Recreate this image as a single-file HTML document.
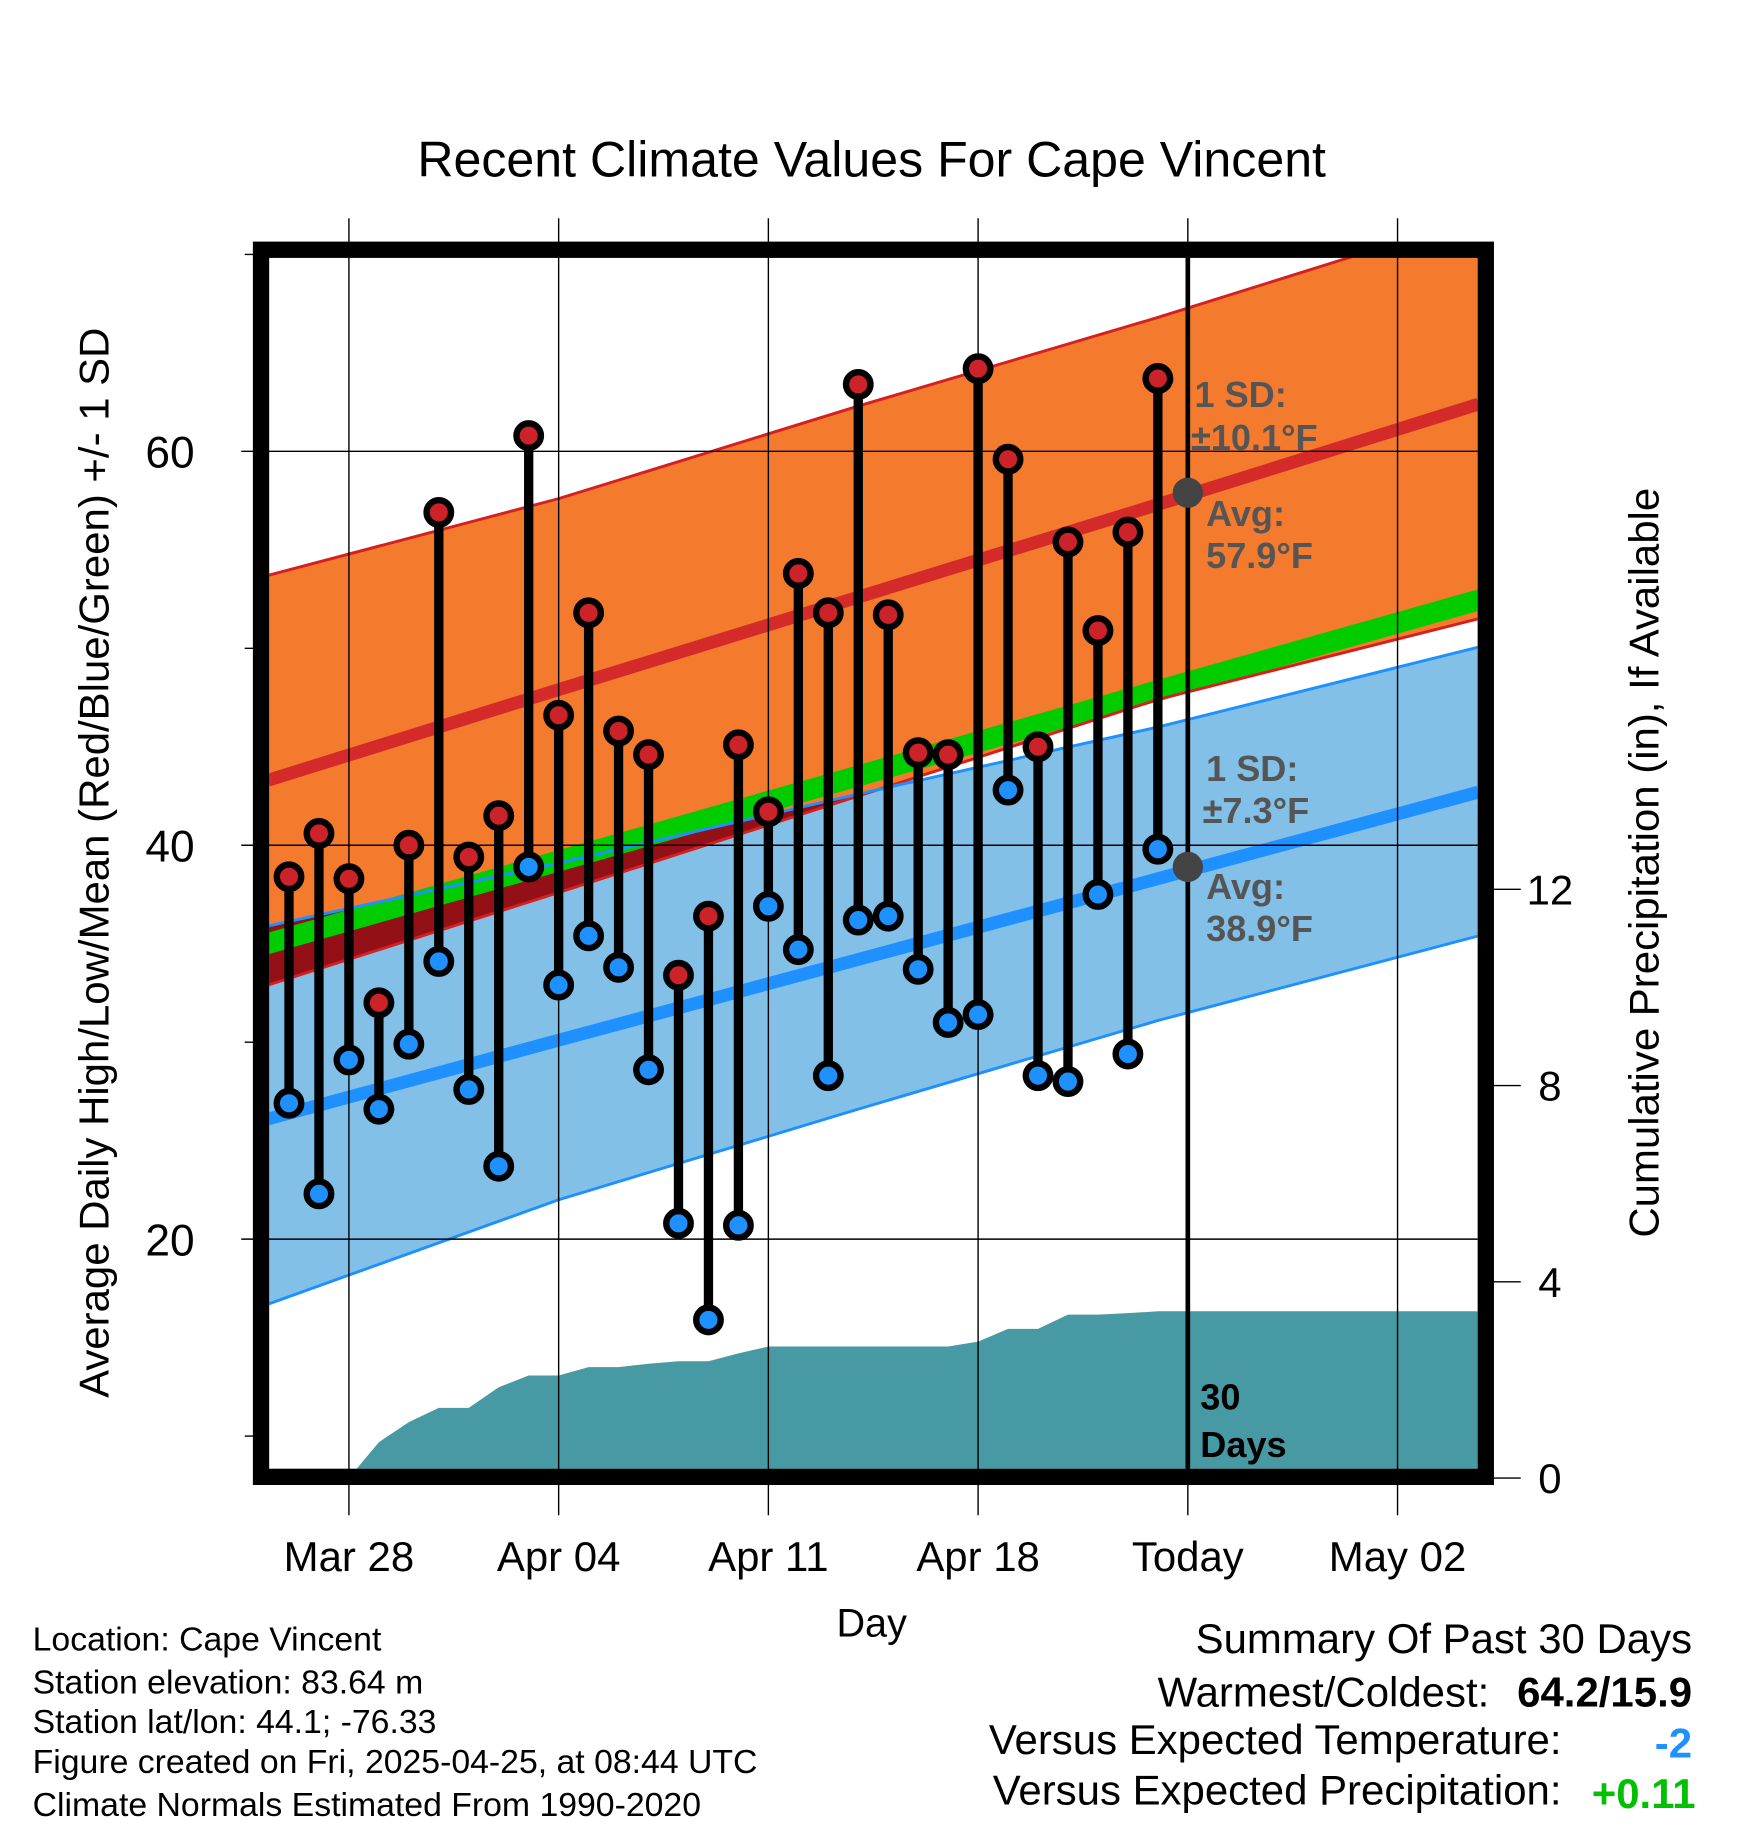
<!DOCTYPE html>
<html><head><meta charset="utf-8"><style>
html,body{margin:0;padding:0;background:#fff}
svg{display:block;font-family:"Liberation Sans",sans-serif}
</style></head><body>
<svg id="chart" width="1748" height="1828" viewBox="0 0 1500 1568" xmlns="http://www.w3.org/2000/svg">
<defs>
<clipPath id="inner"><rect x="231" y="221" width="1037" height="1039"/></clipPath>
</defs>
<text x="748" y="151" font-size="43" text-anchor="middle">Recent Climate Values For Cape Vincent</text>
<g id="bands" clip-path="url(#inner)"></g>
<g id="grid"></g>
<g id="marks" clip-path="url(#inner)"></g>
<rect x="224" y="214" width="1051" height="1053" fill="none" stroke="#000" stroke-width="14"/>
<g id="axes"></g>
<g font-size="31" font-weight="bold" fill="#555">
<text x="1025" y="349">1 SD:</text>
<text x="1022" y="386">±10.1°F</text>
<text x="1035" y="451">Avg:</text>
<text x="1035" y="487">57.9°F</text>
<text x="1035" y="670">1 SD:</text>
<text x="1032" y="706">±7.3°F</text>
<text x="1035" y="771">Avg:</text>
<text x="1035" y="807">38.9°F</text>
</g>
<g font-size="31" font-weight="bold" fill="#000">
<text x="1030" y="1209">30</text>
<text x="1030" y="1250">Days</text>
</g>
<text transform="translate(93,740) rotate(-90)" font-size="36" text-anchor="middle">Average Daily High/Low/Mean (Red/Blue/Green) +/- 1 SD</text>
<text transform="translate(1423,740) rotate(-90)" font-size="36" text-anchor="middle">Cumulative Precipitation (in), If Available</text>
<text x="748" y="1404" font-size="34" text-anchor="middle">Day</text>
<g font-size="29">
<text x="28" y="1416">Location: Cape Vincent</text>
<text x="28" y="1453">Station elevation: 83.64 m</text>
<text x="28" y="1487">Station lat/lon: 44.1; -76.33</text>
<text x="28" y="1521">Figure created on Fri, 2025-04-25, at 08:44 UTC</text>
<text x="28" y="1558">Climate Normals Estimated From 1990-2020</text>
</g>
<g font-size="36">
<text x="1452" y="1418" text-anchor="end">Summary Of Past 30 Days</text>
<text x="1278" y="1464" text-anchor="end">Warmest/Coldest:</text>
<text x="1452" y="1464" text-anchor="end" font-weight="bold">64.2/15.9</text>
<text x="1340" y="1505" text-anchor="end">Versus Expected Temperature:</text>
<text x="1452" y="1508" text-anchor="end" font-weight="bold" fill="#1e90ff">-2</text>
<text x="1340" y="1548" text-anchor="end">Versus Expected Precipitation:</text>
<text x="1455" y="1551" text-anchor="end" font-weight="bold" fill="#00c000">+0.11</text>
</g>
</svg>
<script>
const highs=[38.4,40.6,38.3,32.0,40.0,56.9,39.4,41.5,60.8,46.6,51.8,45.8,44.6,33.4,36.4,45.1,41.7,53.8,51.8,63.4,51.7,44.7,44.6,64.2,59.6,45.0,55.4,50.9,55.9,63.7];
const lows=[26.9,22.3,29.1,26.6,29.9,34.1,27.6,23.7,38.9,32.9,35.4,33.8,28.6,20.8,15.9,20.7,36.9,34.7,28.3,36.2,36.4,33.7,31.0,31.4,42.8,28.3,28.0,37.5,29.4,39.8];
const precip=[0,0,0,0.73,1.14,1.43,1.43,1.85,2.09,2.09,2.26,2.26,2.33,2.38,2.38,2.54,2.68,2.68,2.68,2.68,2.68,2.68,2.68,2.78,3.04,3.04,3.33,3.33,3.36,3.4];
const normDays=[-0.7,9,19,29,39.7];
const avgHigh=[43.3,47.9,52.6,57.3,62.4];
const highUpper=[53.7,57.6,62.3,66.8,71.9];
const highLower=[32.9,37.6,42.5,47.4,51.5];
const meanTop=[35.56,39.75,44.07,48.4,53.0];
const avgLow=[26.1,30.1,34.2,38.3,42.7];
const lowUpper=[35.9,39.1,42.6,46.0,50.06];
const lowLower=[16.7,22.0,26.6,31.1,35.4];
const yTicks=[20,40,60];
const yMinor=[10,30,50,70];
const pTicks=[0,4,8,12];
const xTickDays=[2,9,16,23,30,37];
const xTickLabels=["Mar 28","Apr 04","Apr 11","Apr 18","Today","May 02"];

const NS="http://www.w3.org/2000/svg";
const X=d=>248+25.71*d;
const Y=v=>387-(v-60)*16.9;
const P=p=>1268-p*42.1;
function mk(parent,tag,attrs){const e=document.createElementNS(NS,tag);for(const k in attrs)e.setAttribute(k,attrs[k]);document.getElementById(parent).appendChild(e);return e;}
function line(arr){return normDays.map((d,i)=>X(d)+","+Y(arr[i])).join(" ");}
function band(a,b){return line(a)+" "+normDays.map((d,i)=>X(d)+","+Y(b[i])).reverse().join(" ");}
const meanBot=meanTop.map(v=>v-1.1);

let e;
e=mk('bands','polygon',{points:band(highUpper,highLower),fill:'#f47a2e'});


e=mk('bands','polygon',{points:band(lowUpper,lowLower),fill:'#82c0e8'});


const cp=mk('bands','clipPath',{id:'orangeClip'});
const cpp=document.createElementNS(NS,'polygon');cpp.setAttribute('points',band(highUpper,highLower));cp.appendChild(cpp);
e=mk('bands','polygon',{points:band(lowUpper,lowLower),fill:'#931016','clip-path':'url(#orangeClip)'});


e=mk('bands','polygon',{points:band(meanTop,meanBot),fill:'#00cc00'});


[[highUpper,'#d42020',2.5,'high-upper-line'],[highLower,'#d42020',2.5,'high-lower-line'],[lowUpper,'#1e90ff',2.5,'low-upper-line'],[lowLower,'#1e90ff',2.5,'low-lower-line'],[avgHigh,'#d42a2a',11,'avg-high-line'],[avgLow,'#1e90ff',11,'avg-low-line']].forEach(s=>{
  const l=mk('bands','polyline',{points:line(s[0]),fill:'none',stroke:s[1],'stroke-width':s[2]});
  
  
});
let pts=X(0)+",1262 ";
precip.forEach((p,i)=>{pts+=X(i)+","+P(p)+" ";});
pts+="1270,"+P(precip[precip.length-1])+" 1270,1262";
e=mk('bands','polygon',{points:pts,fill:'#4799a3'});



yTicks.forEach(v=>{
  const g=mk('grid','line',{x1:207,x2:1268,y1:Y(v),y2:Y(v),stroke:'#000','stroke-width':1.2});
  
  
  const t=mk('axes','text',{x:167,y:Y(v)+14,'font-size':38,'text-anchor':'end'});t.textContent=v;
  
  
});
yMinor.forEach(v=>{
  const g=mk('grid','line',{x1:210,x2:224,y1:Y(v),y2:Y(v),stroke:'#000','stroke-width':1.2});
  
  
});
xTickDays.forEach((d,i)=>{
  const g=mk('grid','line',{x1:X(d),x2:X(d),y1:187,y2:1300,stroke:'#000','stroke-width':1.2});
  
  
  const t=mk('axes','text',{x:X(d),y:1348,'font-size':36,'text-anchor':'middle'});t.textContent=xTickLabels[i];
  
  
});
pTicks.forEach(p=>{
  const g=mk('axes','line',{x1:1275,x2:1305,y1:P(p),y2:P(p),stroke:'#000','stroke-width':1.2});
  
  
  const t=mk('axes','text',{x:1330,y:P(p)+13,'font-size':36,'text-anchor':'middle'});t.textContent=p;
  
  
});
e=mk('marks','line',{x1:X(30),x2:X(30),y1:214,y2:1262,stroke:'#000','stroke-width':4});


highs.forEach((h,i)=>{
  const l=mk('marks','line',{x1:X(i),x2:X(i),y1:Y(h),y2:Y(lows[i]),stroke:'#000','stroke-width':8});
  
  
});
highs.forEach((h,i)=>{
  const c=mk('marks','circle',{cx:X(i),cy:Y(h),r:10.5,fill:'#cc2229',stroke:'#000','stroke-width':5.5});
  
  
  const c2=mk('marks','circle',{cx:X(i),cy:Y(lows[i]),r:10.5,fill:'#1e90ff',stroke:'#000','stroke-width':5.5});
  
  
});
[[57.9],[38.9]].forEach(v=>{
  const c=mk('marks','circle',{cx:X(30),cy:Y(v[0]),r:13,fill:'#444'});
  
  
});
</script>
</body></html>
